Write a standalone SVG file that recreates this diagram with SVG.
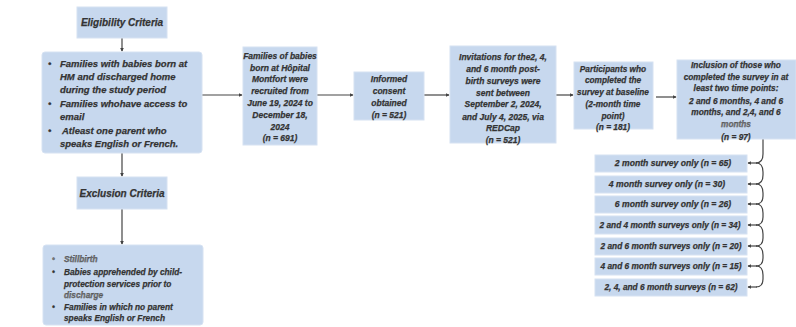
<svg xmlns="http://www.w3.org/2000/svg" width="796" height="327" viewBox="0 0 796 327">
<defs>
<style>
.box{fill:#c7d8ee;stroke:#d6e2f2;stroke-width:1}
.t{font-family:"Liberation Sans",Arial,sans-serif;font-weight:bold;font-style:italic;fill:#333333;stroke:#333333;stroke-width:0.25}
.c{text-anchor:middle}
.ln{stroke:#444;stroke-width:1.2;fill:none}
</style>
<marker id="dot" viewBox="0 0 6 6" refX="5" refY="3" markerWidth="4" markerHeight="4" orient="auto" markerUnits="userSpaceOnUse">
<path d="M0,0 L6,3 L0,6 z" fill="#444"/>
</marker>
</defs>
<rect width="796" height="327" fill="#ffffff"/>

<g id="connectors">
<path class="ln" d="M122,38 V51" marker-end="url(#dot)"/>
<path class="ln" d="M122,153 V176" marker-end="url(#dot)"/>
<path class="ln" d="M122,209 V244" marker-end="url(#dot)"/>
<path class="ln" d="M202,95 H242" marker-end="url(#dot)"/>
<path class="ln" d="M317,95 H353" marker-end="url(#dot)"/>
<path class="ln" d="M424,95 H449" marker-end="url(#dot)"/>
<path class="ln" d="M556,95 H573" marker-end="url(#dot)"/>
<path class="ln" d="M656,97 H676" marker-end="url(#dot)"/>
<path class="ln" d="M763,139 V154 Q763,163 756,163"/>
<path class="ln" d="M763,172 Q763,163 756,163"/>
<path class="ln" d="M763,172 V175 Q763,184 756,184"/>
<path class="ln" d="M763,193 Q763,184 756,184"/>
<path class="ln" d="M763,193 V196 Q763,204 756,204"/>
<path class="ln" d="M763,213 Q763,204 756,204"/>
<path class="ln" d="M763,213 V217 Q763,225 756,225"/>
<path class="ln" d="M763,234 Q763,225 756,225"/>
<path class="ln" d="M763,234 V238 Q763,246 756,246"/>
<path class="ln" d="M763,255 Q763,246 756,246"/>
<path class="ln" d="M763,255 V258 Q763,266 756,266"/>
<path class="ln" d="M763,275 Q763,266 756,266"/>
<path class="ln" d="M763,275 V279 Q763,287 756,287"/>
<path class="ln" d="M757,163 H748" marker-end="url(#dot)"/>
<path class="ln" d="M757,184 H748" marker-end="url(#dot)"/>
<path class="ln" d="M757,204 H748" marker-end="url(#dot)"/>
<path class="ln" d="M757,225 H748" marker-end="url(#dot)"/>
<path class="ln" d="M757,246 H748" marker-end="url(#dot)"/>
<path class="ln" d="M757,266 H748" marker-end="url(#dot)"/>
<path class="ln" d="M757,287 H748" marker-end="url(#dot)"/>
</g>

<g id="eligibility">
<rect class="box" x="77" y="7" width="90" height="31"/>
<text class="t c" x="122" y="26" font-size="10">Eligibility Criteria</text>
</g>

<g id="criteria">
<rect class="box" x="42" y="52" width="160" height="101" rx="3"/>
<g class="t" font-size="9.5">
<text x="48" y="67">•</text>
<text x="60" y="67">Families with babies born at</text>
<text x="60" y="80">HM and discharged home</text>
<text x="60" y="93">during the study period</text>
<text x="48" y="107">•</text>
<text x="60" y="107">Families whohave access to</text>
<text x="60" y="120">email</text>
<text x="48" y="134">•</text>
<text x="62" y="134">Atleast one parent who</text>
<text x="60" y="147">speaks English or French.</text>
</g>
</g>

<g id="exclusion">
<rect class="box" x="77" y="177" width="90" height="32"/>
<text class="t c" x="122" y="197" font-size="10">Exclusion Criteria</text>
</g>

<g id="exclusion-list">
<rect class="box" x="43" y="245" width="160" height="80" rx="3"/>
<g class="t" font-size="8.3">
<text x="52" y="262" fill="#777">•</text>
<text x="64" y="262" fill="#777">Stillbirth</text>
<text x="52" y="275">•</text>
<text x="64" y="275">Babies apprehended by child-</text>
<text x="64" y="287">protection services prior to</text>
<text x="64" y="298" fill="#777">discharge</text>
<text x="52" y="310">•</text>
<text x="64" y="310">Families in which no parent</text>
<text x="64" y="321">speaks English or French</text>
</g>
</g>

<g id="recruited">
<rect class="box" x="243" y="47" width="74" height="98"/>
<g class="t c" font-size="8.5">
<text x="280" y="59">Families of babies</text>
<text x="280" y="71">born at Hôpital</text>
<text x="280" y="82">Montfort were</text>
<text x="280" y="94">recruited from</text>
<text x="280" y="106">June 19, 2024 to</text>
<text x="280" y="118">December 18,</text>
<text x="280" y="130">2024</text>
<text x="280" y="141">(n = 691)</text>
</g>
</g>

<g id="consent">
<rect class="box" x="354" y="72" width="70" height="48"/>
<g class="t c" font-size="8.5">
<text x="389" y="82">Informed</text>
<text x="389" y="94">consent</text>
<text x="389" y="106">obtained</text>
<text x="389" y="118">(n = 521)</text>
</g>
</g>

<g id="invitations">
<rect class="box" x="450" y="46" width="106" height="97"/>
<g class="t c" font-size="8.5">
<text x="503" y="60">Invitations for the2, 4,</text>
<text x="503" y="72">and 6 month post-</text>
<text x="503" y="84">birth surveys were</text>
<text x="503" y="96">sent between</text>
<text x="503" y="107">September 2, 2024,</text>
<text x="503" y="120">and July 4, 2025, via</text>
<text x="503" y="131">REDCap</text>
<text x="503" y="143">(n = 521)</text>
</g>
</g>

<g id="baseline">
<rect class="box" x="574" y="62" width="79" height="67"/>
<g class="t c" font-size="8.3">
<text x="613" y="72">Participants who</text>
<text x="613" y="83">completed the</text>
<text x="613" y="95">survey at baseline</text>
<text x="613" y="107">(2-month time</text>
<text x="613" y="119">point)</text>
<text x="613" y="130">(n =  181)</text>
</g>
</g>

<g id="inclusion">
<rect class="box" x="677" y="60" width="119" height="79"/>
<g class="t c" font-size="8.3">
<text x="736" y="68">Inclusion of  those who</text>
<text x="736" y="80">completed the survey in at</text>
<text x="736" y="91">least two time points:</text>
<text x="736" y="104">2 and 6 months, 4 and 6</text>
<text x="736" y="115">months, and 2,4, and 6</text>
<text x="736" y="127" fill="#777">months</text>
<text x="736" y="140">(n = 97)</text>
</g>
</g>

<g id="s2"><rect class="box" x="595" y="155" width="152" height="17"/><text class="t c" x="673" y="166" font-size="8.6">2 month survey only  (n = 65)</text></g>
<g id="s4"><rect class="box" x="595" y="176" width="152" height="17"/><text class="t c" x="667" y="187" font-size="8.6">4 month survey only (n = 30)</text></g>
<g id="s6"><rect class="box" x="595" y="196" width="152" height="17"/><text class="t c" x="673" y="207" font-size="8.6">6 month survey only (n = 26)</text></g>
<g id="s24"><rect class="box" x="595" y="216" width="152" height="18"/><text class="t c" x="670" y="228" font-size="8.3">2 and 4 month surveys only (n = 34)</text></g>
<g id="s26"><rect class="box" x="595" y="238" width="152" height="17"/><text class="t c" x="671" y="249" font-size="8.3">2 and 6 month surveys only (n = 20)</text></g>
<g id="s46"><rect class="box" x="595" y="258" width="152" height="17"/><text class="t c" x="671" y="269" font-size="8.3">4 and 6 month surveys only (n = 15)</text></g>
<g id="s246"><rect class="box" x="595" y="279" width="152" height="17"/><text class="t c" x="671" y="290" font-size="8.3">2, 4, and 6 month surveys (n = 62)</text></g>
</svg>
